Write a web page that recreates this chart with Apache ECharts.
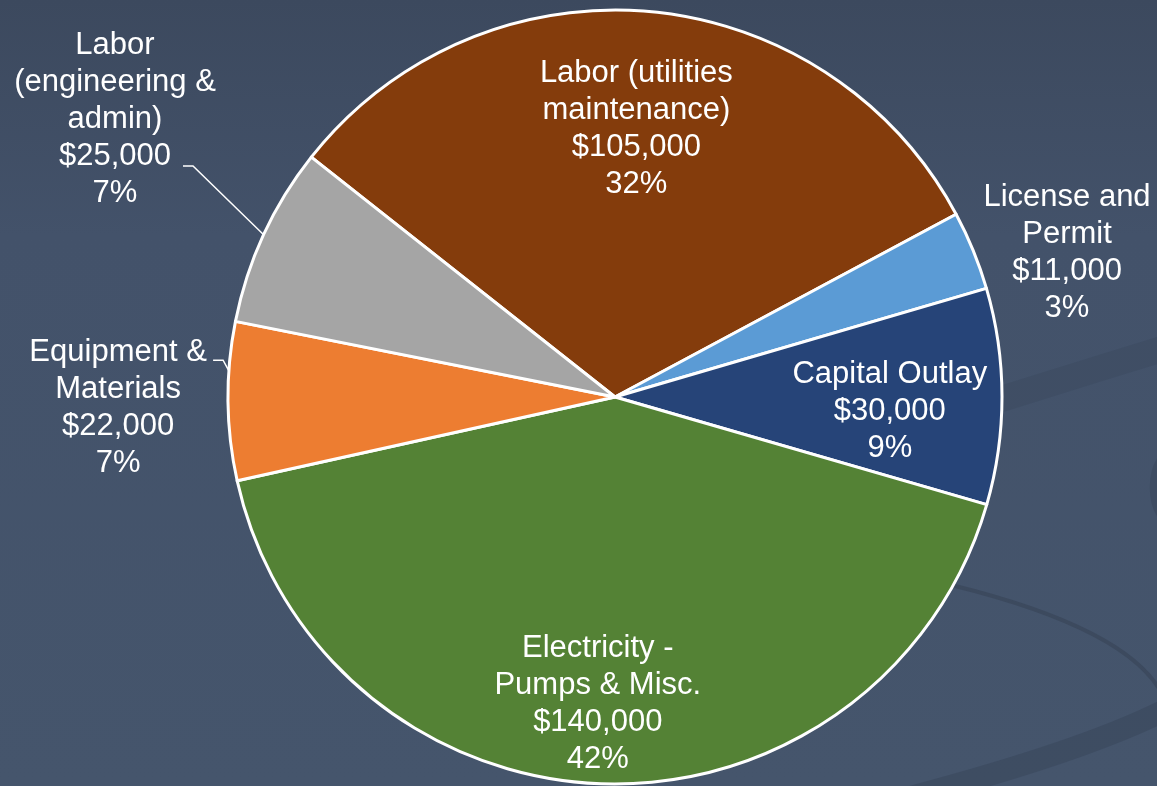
<!DOCTYPE html>
<html>
<head>
<meta charset="utf-8">
<script src="https://cdn.jsdelivr.net/npm/echarts@6/dist/echarts.min.js"></script>
<style>
  html, body { margin: 0; padding: 0; }
  #chart { width: 1157px; height: 786px; }
</style>
</head>
<body>
<div id="chart"></div>
<script>
// 数据
const categories = ['Labor (utilities\nmaintenance)', 'License and\nPermit', 'Capital Outlay', 'Electricity -\nPumps & Misc.', 'Equipment &\nMaterials', 'Labor\n(engineering &\nadmin)'];
const costs = [105000, 11000, 30000, 140000, 22000, 25000];
const colors = ['#843C0C', '#5B9BD5', '#264478', '#548235', '#ED7D31', '#A5A5A5'];

// 饼图位置
const CX = 615, CY = 397, R = 387;
const START = 141.7;

// 标签位置 (inside: [半径比例, 角度偏移], outside: 相对圆心/R)
const insideAt = { 0: [0.695, -0.5], 2: [0.711, 3.0], 3: [0.794, 1.4] };
const outsideAt = {
    1: { at: [1.168, -0.373] },
    4: { at: [-1.284, 0.029], line: [95, -48], elbow: 10, shift: 4.5 },
    5: { at: [-1.292, -0.716], line: [68, 46], elbow: 10, shift: 0 }
};

const total = costs.reduce((a, b) => a + b, 0);

function midAngle(i) {
    let before = 0;
    for (let k = 0; k < i; k++) before += costs[k];
    return (90 - START) + (before + costs[i] / 2) / total * 360;
}

function onCircle(deg, dist) {
    const a = deg * Math.PI / 180;
    return [CX + Math.sin(a) * dist, CY - Math.cos(a) * dist];
}

const pieData = categories.map((name, i) => {
    const isInside = insideAt[i] != null;
    return {
        name: name,
        value: costs[i],
        itemStyle: { color: colors[i] },
        label: { position: isInside ? 'inside' : 'outside' },
        labelLine: { show: !!(outsideAt[i] && outsideAt[i].line) }
    };
});

const myChart = echarts.init(document.getElementById('chart'));

const option = {
    animation: false,
    backgroundColor: {
        type: 'linear', x: 0, y: 0, x2: 0, y2: 1,
        colorStops: [
            { offset: 0, color: '#3C495E' },
            { offset: 0.3, color: '#43526A' },
            { offset: 1, color: '#45556C' }
        ]
    },
    graphic: [
        // 背景装饰曲线
        { type: 'bezierCurve', z: 0, silent: true,
          shape: { x1: 950, y1: 415, cpx1: 1030, cpy1: 390, cpx2: 1100, cpy2: 368, x2: 1175, y2: 345 },
          style: { stroke: 'rgba(52,64,84,0.22)', lineWidth: 26, fill: null } },
        { type: 'bezierCurve', z: 0, silent: true,
          shape: { x1: 930, y1: 580, cpx1: 1040, cpy1: 605, cpx2: 1130, cpy2: 640, x2: 1160, y2: 690 },
          style: { stroke: 'rgba(50,62,80,0.45)', lineWidth: 4, fill: null } },
        { type: 'bezierCurve', z: 0, silent: true,
          shape: { x1: 860, y1: 810, cpx1: 980, cpy1: 780, cpx2: 1100, cpy2: 745, x2: 1175, y2: 705 },
          style: { stroke: 'rgba(52,64,84,0.4)', lineWidth: 22, fill: null } },
        { type: 'bezierCurve', z: 0, silent: true,
          shape: { x1: 1165, y1: 455, cpx1: 1150, cpy1: 470, cpx2: 1150, cpy2: 505, x2: 1165, y2: 520 },
          style: { stroke: 'rgba(52,64,84,0.35)', lineWidth: 8, fill: null } }
    ],
    series: [
        {
            type: 'pie',
            center: [CX, CY],
            radius: R,
            startAngle: START,
            clockwise: true,
            percentPrecision: 0,
            avoidLabelOverlap: false,
            emphasis: { disabled: true },
            itemStyle: { borderColor: '#FFFFFF', borderWidth: 3 },
            label: {
                color: '#FFFFFF',
                fontFamily: 'Liberation Sans, Arial, sans-serif',
                fontSize: 31,
                lineHeight: 37,
                overflow: 'none',
                formatter: function (p) {
                    return p.name + '\n$' + echarts.format.addCommas(p.value) + '\n' + p.percent + '%';
                }
            },
            labelLine: {
                length: 10,
                length2: 10,
                lineStyle: { color: '#FFFFFF', width: 1.5 }
            },
            labelLayout: function (params) {
                const i = params.dataIndex;
                const mid = midAngle(i);
                if (insideAt[i] != null) {
                    const p = onCircle(mid + insideAt[i][1], insideAt[i][0] * R);
                    return { x: p[0], y: p[1], align: 'center', verticalAlign: 'middle' };
                }
                const o = outsideAt[i];
                const x = CX + o.at[0] * R;
                const y = CY + o.at[1] * R;
                const res = { x: x, y: y, align: 'center', verticalAlign: 'middle' };
                if (o.line) {
                    const end = [x + o.line[0], y + o.line[1]];
                    const elbow = [end[0] + o.elbow, end[1]];
                    res.labelLinePoints = [onCircle(mid + o.shift, R), elbow, end];
                }
                return res;
            },
            data: pieData
        }
    ]
};

myChart.setOption(option);
</script>
</body>
</html>
